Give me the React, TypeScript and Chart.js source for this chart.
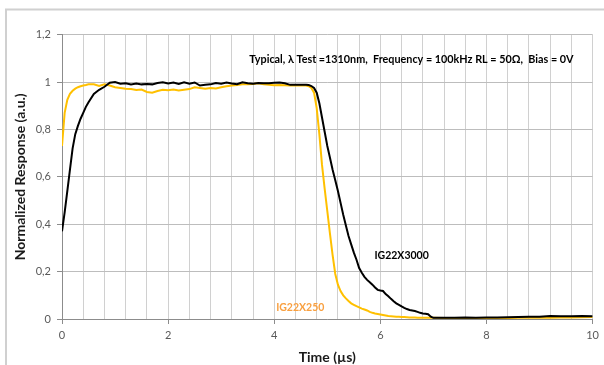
import React, { useEffect, useRef } from "react";
import { Chart, registerables } from "chart.js";

Chart.register(...registerables);

const FONT = "Lato, 'Open Sans', sans-serif";

// Time axis (µs)
const timeUs = [
  0, 0.05, 0.1, 0.15, 0.2, 0.25, 0.3, 0.35, 0.4, 0.45, 0.5,
  0.6, 0.7, 0.8, 0.9, 1.0, 1.1, 1.2, 1.3, 1.4, 1.5, 1.6, 1.7, 1.8, 1.9,
  2.0, 2.1, 2.2, 2.3, 2.4, 2.5, 2.6, 2.7, 2.8, 2.9,
  3.0, 3.1, 3.2, 3.3, 3.4, 3.5, 3.6, 3.7, 3.8, 3.9,
  4.0, 4.1, 4.2, 4.3, 4.4, 4.5,
  4.55, 4.6, 4.65, 4.7, 4.75, 4.8, 4.85, 4.9, 4.95, 5.0,
  5.05, 5.1, 5.15, 5.2, 5.25, 5.3, 5.35, 5.4, 5.45, 5.5,
  5.55, 5.6, 5.65, 5.7, 5.75, 5.8, 5.85, 5.9, 5.95, 6.0,
  6.05, 6.1, 6.15, 6.2, 6.25, 6.3, 6.35, 6.4, 6.45, 6.5,
  6.55, 6.6, 6.65, 6.7, 6.75, 6.8, 6.85, 6.9, 6.95, 7.0,
  7.2, 7.4, 7.6, 7.8, 8.0, 8.2, 8.4, 8.6, 8.8, 9.0, 9.2, 9.4, 9.6, 9.8, 10.0,
];

const ig22x3000 = [
  0.37, 0.45, 0.54, 0.63, 0.72, 0.78, 0.815, 0.845, 0.87, 0.895, 0.915,
  0.95, 0.967, 0.98, 0.997, 1.0, 0.993, 0.995, 0.99, 0.994, 0.99, 0.992, 0.99, 0.996, 0.999,
  0.994, 0.998, 0.992, 0.999, 0.993, 0.998, 0.985, 0.988, 0.99, 0.996,
  0.993, 0.998, 0.994, 0.991, 0.999, 0.995, 0.993, 0.996, 0.995, 0.995,
  0.997, 0.998, 0.995, 0.988, 0.988, 0.988,
  0.988, 0.988, 0.987, 0.983, 0.975, 0.955, 0.91, 0.85, 0.79, 0.73,
  0.68, 0.63, 0.585, 0.54, 0.49, 0.44, 0.395, 0.35, 0.315, 0.28,
  0.25, 0.215, 0.195, 0.178, 0.165, 0.155, 0.145, 0.133, 0.123, 0.12,
  0.118, 0.105, 0.096, 0.085, 0.075, 0.066, 0.06, 0.053, 0.047, 0.042,
  0.038, 0.036, 0.034, 0.03, 0.026, 0.023, 0.022, 0.02, 0.01, 0.005,
  0.005, 0.005, 0.006, 0.005, 0.006, 0.006, 0.007, 0.008, 0.009, 0.01, 0.013, 0.012, 0.012, 0.013, 0.012,
];

const ig22x250 = [
  0.73, 0.87, 0.925, 0.95, 0.963, 0.972, 0.978, 0.982, 0.985, 0.987, 0.99,
  0.99, 0.983, 0.99, 0.985, 0.978, 0.975, 0.972, 0.97, 0.966, 0.968, 0.958, 0.955, 0.962, 0.967,
  0.965, 0.968, 0.964, 0.967, 0.97, 0.978, 0.975, 0.972, 0.975, 0.973,
  0.978, 0.982, 0.985, 0.987, 0.99, 0.99, 0.992, 0.995, 0.99, 0.988,
  0.986, 0.987, 0.986, 0.985, 0.986, 0.985,
  0.985, 0.985, 0.982, 0.975, 0.955, 0.89, 0.78, 0.65, 0.55, 0.455,
  0.36, 0.27, 0.19, 0.145, 0.118, 0.1, 0.087, 0.076, 0.066, 0.06,
  0.054, 0.049, 0.044, 0.04, 0.036, 0.03, 0.026, 0.023, 0.021, 0.019,
  0.017, 0.015, 0.013, 0.012, 0.011, 0.01, 0.009, 0.008, 0.008, 0.007,
  0.006, 0.006, 0.006, 0.005, 0.005, 0.005, 0.005, 0.005, 0.005, 0.005,
  0.004, 0.004, 0.004, 0.004, 0.004, 0.004, 0.004, 0.005, 0.005, 0.005, 0.005, 0.006, 0.006, 0.007, 0.008,
];

const seriesNames = ["IG22X3000", "IG22X250"];
const conditionsText = "Typical, \u03BB Test =1310nm,  Frequency = 100kHz RL = 50\u03A9,  Bias = 0V";
const xTitle = "Time (\u00B5s)";
const yTitle = "Normalized Response (a.u.)";

const isMajorX = (v: number) => Math.abs(v / 2 - Math.round(v / 2)) < 1e-6;

const decorPlugin = {
  id: "decor",
  beforeDraw(chart: any) {
    const ctx = chart.ctx;
    ctx.save();
    ctx.strokeStyle = "#d0d0d0";
    ctx.lineWidth = 2;
    ctx.beginPath();
    ctx.moveTo(6, 365);
    ctx.lineTo(6, 9.5);
    ctx.lineTo(604, 9.5);
    ctx.stroke();
    ctx.restore();
  },
  afterDraw(chart: any) {
    const ctx = chart.ctx;
    const xs = chart.scales.x;
    const ys = chart.scales.y;
    ctx.save();
    ctx.textBaseline = "middle";
    ctx.textAlign = "center";
    ctx.font = `bold 10.8px ${FONT}`;
    ctx.fillStyle = "#000000";
    ctx.fillText(conditionsText, xs.getPixelForValue(6.585), ys.getPixelForValue(1.097));
    ctx.font = `bold 10.5px ${FONT}`;
    ctx.fillStyle = "#000000";
    ctx.fillText(seriesNames[0], xs.getPixelForValue(6.4), ys.getPixelForValue(0.268));
    ctx.fillStyle = "#F9A040";
    ctx.fillText(seriesNames[1], xs.getPixelForValue(4.49), ys.getPixelForValue(0.05));
    ctx.restore();
  },
};

export default function App() {
  const canvasRef = useRef<HTMLCanvasElement | null>(null);

  useEffect(() => {
    const canvas = canvasRef.current;
    if (!canvas) return;
    const chart = new Chart(canvas, {
      type: "line",
      data: {
        datasets: [
          {
            label: seriesNames[0],
            data: timeUs.map((t, i) => ({ x: t, y: ig22x3000[i] })),
            borderColor: "#000000",
            borderWidth: 2,
            pointRadius: 0,
            tension: 0,
            fill: false,
          },
          {
            label: seriesNames[1],
            data: timeUs.map((t, i) => ({ x: t, y: ig22x250[i] })),
            borderColor: "#FFC000",
            borderWidth: 2,
            pointRadius: 0,
            tension: 0,
            fill: false,
          },
        ],
      },
      options: {
        animation: false,
        responsive: false,
        maintainAspectRatio: false,
        layout: { padding: { top: 34.6, right: 11, left: 0, bottom: 0 } },
        plugins: {
          legend: { display: false },
          tooltip: { enabled: false },
          title: { display: false },
        },
        scales: {
          x: {
            type: "linear",
            min: 0,
            max: 10,
            afterFit: (s: any) => {
              s.height = 46;
            },
            ticks: {
              stepSize: 0.4,
              maxTicksLimit: 40,
              autoSkip: false,
              maxRotation: 0,
              padding: 5,
              color: "#595959",
              font: { family: FONT, size: 11 },
              callback: (v: any) => (isMajorX(Number(v)) ? String(Math.round(Number(v))) : ""),
            },
            grid: {
              color: "#d0d0d0",
              lineWidth: 1,
              tickLength: 5,
              tickColor: (c: any) => (c.tick && isMajorX(c.tick.value) ? "#8c8c8c" : "rgba(0,0,0,0)"),
            },
            border: { color: "#8c8c8c", width: 1 },
            title: {
              display: true,
              text: xTitle,
              color: "#1a1a1a",
              font: { family: FONT, size: 14, weight: "bold", lineHeight: 1 },
              padding: { top: 0, bottom: 1 },
            },
          },
          y: {
            type: "linear",
            min: 0,
            max: 1.2,
            afterFit: (s: any) => {
              s.width = 62;
            },
            ticks: {
              stepSize: 0.2,
              padding: 6,
              color: "#595959",
              font: { family: FONT, size: 11 },
              callback: (v: any) => String(Math.round(Number(v) * 10) / 10).replace(".", ","),
            },
            grid: {
              color: "#bdbdbd",
              lineWidth: 1,
              tickLength: 5,
              tickColor: "#8c8c8c",
            },
            border: { color: "#8c8c8c", width: 1 },
            title: {
              display: true,
              text: yTitle,
              color: "#1a1a1a",
              font: { family: FONT, size: 14, weight: "bold", lineHeight: 1 },
              padding: { top: 13.5, bottom: 0 },
            },
          },
        },
      },
      plugins: [decorPlugin],
    });
    return () => chart.destroy();
  }, []);

  return (
    <div style={{ position: "absolute", left: 0, top: 0, width: 604, height: 365, background: "#ffffff" }}>
      <canvas ref={canvasRef} width={604} height={365} style={{ width: 604, height: 365, display: "block" }} />
    </div>
  );
}
